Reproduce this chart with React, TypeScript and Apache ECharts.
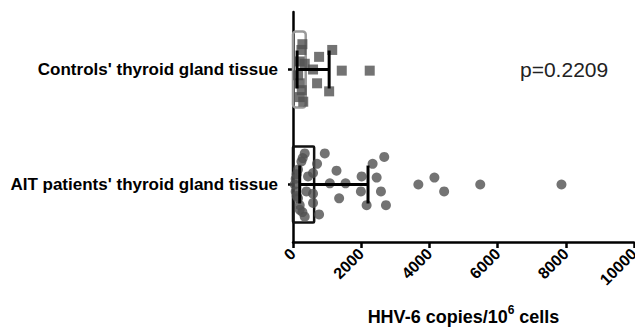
import React, { useEffect, useRef } from "react";
import * as echarts from "echarts";

const categories = ["AIT patients' thyroid gland tissue", "Controls' thyroid gland tissue"];
const xTicks = [0, 2000, 4000, 6000, 8000, 10000];

// [copies, vertical position (category centre at 0.5 / 1.5)]
const controlsPoints: number[][] = [
  [276, 1.72], [1150, 1.67], [765, 1.61], [344, 1.55], [588, 1.5], [1430, 1.49],
  [2250, 1.49], [706, 1.38], [1060, 1.31], [197, 1.26], [247, 1.67], [197, 1.57],
  [197, 1.38], [150, 1.45], [256, 1.32], [300, 1.22],
];

const aitPoints: number[][] = [
  [344, 0.77], [247, 0.7], [147, 0.63], [79, 0.55], [50, 0.5], [79, 0.44],
  [147, 0.38], [197, 0.32], [276, 0.26], [344, 0.22], [441, 0.57], [588, 0.6],
  [394, 0.44], [588, 0.42], [588, 0.34], [765, 0.24], [706, 0.68], [932, 0.77],
  [1276, 0.62], [2012, 0.57], [2453, 0.56], [2335, 0.68], [2676, 0.74], [1080, 0.51],
  [1541, 0.51], [3676, 0.5], [4147, 0.56], [4432, 0.44], [5491, 0.5], [7873, 0.5],
  [1991, 0.44], [2579, 0.44], [1353, 0.38], [2159, 0.32], [2726, 0.32], [109, 0.59],
  [109, 0.4], [197, 0.28], [285, 0.73],
];

// [category centre, low, high]
const boxes: number[][] = [
  [0.5, 0, 620],
  [1.5, 0, 373],
];
const errorBars: number[][] = [
  [0.5, 197, 2200],
  [1.5, 120, 1060],
];
const pValue = "p=0.2209";

const FONT = "Liberation Sans, Arial, sans-serif";

export default function App() {
  const ref = useRef<HTMLDivElement>(null);
  useEffect(() => {
    if (!ref.current) return;
    const chart = echarts.init(ref.current, null, { renderer: "svg" });
    const boxColors = ["#111", "#9a9a9a"];
    chart.setOption({
      animation: false,
      backgroundColor: "#fff",
      grid: { left: 293, right: 1, top: 12, bottom: 91, containLabel: false, outerBoundsMode: "none" },
      xAxis: {
        type: "value",
        min: 0,
        max: 10000,
        interval: 2000,
        axisLine: { show: true, lineStyle: { color: "#000", width: 2.5 } },
        axisTick: { show: true, length: 6, lineStyle: { color: "#000", width: 2.5 } },
        splitLine: { show: false },
        axisLabel: {
          rotate: 45,
          margin: 9,
          fontFamily: FONT,
          fontWeight: "bold",
          fontSize: 16,
          color: "#000",
          formatter: (v: number) => (xTicks.includes(v) ? String(v) : ""),
        },
        name: "{a|HHV-6 copies/10}{s|6}{a| cells}",
        nameLocation: "middle",
        nameGap: 62,
        nameTextStyle: {
          rich: {
            a: { fontFamily: FONT, fontWeight: "bold", fontSize: 18, color: "#000", verticalAlign: "bottom", lineHeight: 22 },
            s: { fontFamily: FONT, fontWeight: "bold", fontSize: 12, color: "#000", verticalAlign: "top", lineHeight: 22, padding: [0, 0, 10, 0] },
          },
        },
      },
      yAxis: [
        {
          type: "category",
          data: categories,
          boundaryGap: true,
          axisLine: { show: true, lineStyle: { color: "#000", width: 2.5 } },
          axisTick: { show: true, alignWithLabel: true, length: 5, lineStyle: { color: "#000", width: 2.5 } },
          axisLabel: {
            margin: 15,
            fontFamily: FONT,
            fontWeight: "bold",
            fontSize: 17,
            color: "#000",
          },
          splitLine: { show: false },
        },
        { type: "value", min: 0, max: 2, show: false },
      ],
      series: [
        {
          type: "custom",
          yAxisIndex: 1,
          z: 1,
          data: boxes,
          renderItem: (params: any, api: any) => {
            const c = api.value(0);
            const p1 = api.coord([api.value(1), c + 0.33]);
            const p2 = api.coord([api.value(2), c - 0.33]);
            const i = params.dataIndex;
            return {
              type: "rect",
              shape: { x: p1[0], y: p1[1], width: p2[0] - p1[0], height: p2[1] - p1[1], r: i === 1 ? 3 : 1 },
              style: { fill: "none", stroke: boxColors[i], lineWidth: 2.5 },
            };
          },
        },
        {
          type: "scatter",
          yAxisIndex: 1,
          z: 2,
          symbol: "rect",
          symbolSize: 10,
          itemStyle: { color: "#505050" },
          data: controlsPoints,
        },
        {
          type: "scatter",
          yAxisIndex: 1,
          z: 2,
          symbol: "circle",
          symbolSize: 10,
          itemStyle: { color: "#505050" },
          data: aitPoints,
        },
        {
          type: "custom",
          yAxisIndex: 1,
          z: 3,
          data: errorBars,
          renderItem: (params: any, api: any) => {
            const c = api.value(0);
            const a = api.coord([api.value(1), c]);
            const b = api.coord([api.value(2), c]);
            const h = api.size([0, 0.165])[1];
            const st = { stroke: "#000", lineWidth: 3 };
            return {
              type: "group",
              children: [
                { type: "line", shape: { x1: a[0], y1: a[1], x2: b[0], y2: b[1] }, style: st },
                { type: "line", shape: { x1: a[0], y1: a[1] - h, x2: a[0], y2: a[1] + h }, style: st },
                { type: "line", shape: { x1: b[0], y1: b[1] - h, x2: b[0], y2: b[1] + h }, style: st },
              ],
            };
          },
        },
      ],
      graphic: [
        {
          type: "text",
          left: 520,
          top: 59,
          style: {
            text: pValue,
            fontFamily: FONT,
            fontSize: 21,
            fill: "#222",
          },
        },
      ],
    });
    return () => chart.dispose();
  }, []);
  return <div ref={ref} style={{ width: 635, height: 333, position: "absolute", left: 0, top: 0 }} />;
}
